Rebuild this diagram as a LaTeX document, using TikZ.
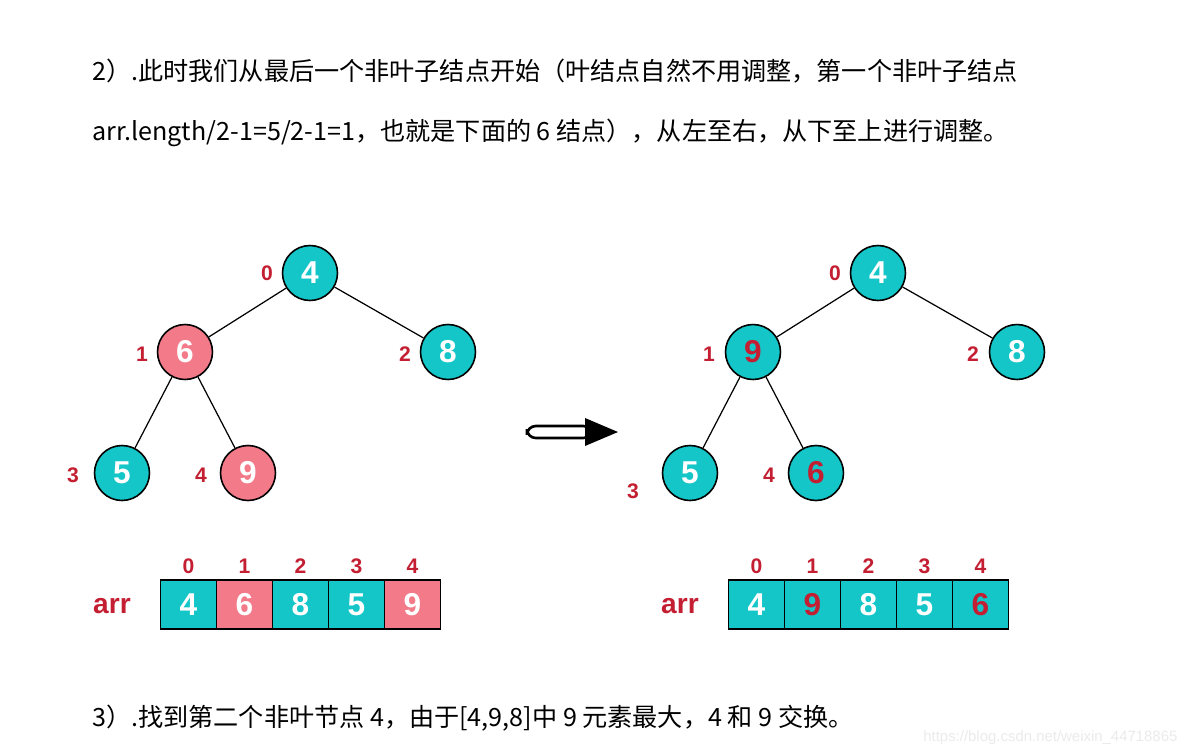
\documentclass[tikz,border=0pt]{standalone}
\usepackage{fontspec}
\setmainfont{Liberation Sans}
\newfontfamily\cjk{Noto Sans CJK SC}
\definecolor{heapteal}{RGB}{20,198,200}
\definecolor{heappink}{RGB}{242,122,137}
\definecolor{idxred}{RGB}{196,30,50}
\usetikzlibrary{positioning}

\begin{document}
\begin{tikzpicture}[x=0.02cm, y=-0.02cm,
    heap/.style={circle, draw=black, line width=0.9pt, minimum size=1.1cm, inner sep=0pt,
                 font=\fontsize{18}{20}\selectfont\bfseries, text=white},
    cell/.style={rectangle, draw=black, line width=0.8pt, outer sep=0pt, minimum width=1.12cm,
                 minimum height=0.98cm, inner sep=0pt, font=\fontsize{18}{20}\selectfont\bfseries, text=white},
    idx/.style={font=\fontsize{12}{14}\selectfont\bfseries, text=idxred, inner sep=0pt},
    arrlabel/.style={font=\fontsize{16}{18}\selectfont\bfseries, text=idxred},
    note/.style={font=\cjk\fontsize{14.3}{16}\selectfont, anchor=base west, inner sep=0pt},
    edge/.style={line width=0.7pt}]
                % Canvas
                \fill[white] (0,0) rectangle (1204,755);
                \useasboundingbox (0,0) rectangle (1204,755);

                % Explanation
                \node[note] (line1) at (92,80) {2）.此时我们从最后一个非叶子结点开始（叶结点自然不用调整，第一个非叶子结点};
                \node[note] (line2) at (92,140) {arr.length/2-1=5/2-1=1，也就是下面的 6 结点），从左至右，从下至上进行调整。};

                % Heap before
                \node[heap, fill=heapteal] (b0) at (310,273) {4};
                \node[heap, fill=heappink] (b1) at (185,352) {6};
                \node[heap, fill=heapteal] (b2) at (448,352) {8};
                \node[heap, fill=heapteal] (b3) at (122,473) {5};
                \node[heap, fill=heappink] (b4) at (248,473) {9};
                \draw[edge] (b0) -- (b1);
                \draw[edge] (b0) -- (b2);
                \draw[edge] (b1) -- (b3);
                \draw[edge] (b1) -- (b4);
                \node[idx] (bi0) at (267,273) {0};
                \node[idx] (bi1) at (142,354) {1};
                \node[idx] (bi2) at (405,354) {2};
                \node[idx] (bi3) at (73,475) {3};
                \node[idx] (bi4) at (201,475) {4};

                % Swap arrow
                \coordinate (arrowtail) at (526,432);
                \coordinate (arrowtip) at (618,432);
                \draw[line width=1.5pt, fill=white, rounded corners=5] (527,426) rectangle (592,438);
                \fill (585,418) -- (arrowtip) -- (585,446) -- cycle;

                % Heap after
                \node[heap, fill=heapteal] (a0) at (878,273) {4};
                \node[heap, fill=heapteal, text=idxred] (a1) at (753,352) {9};
                \node[heap, fill=heapteal] (a2) at (1017,352) {8};
                \node[heap, fill=heapteal] (a3) at (690,473) {5};
                \node[heap, fill=heapteal, text=idxred] (a4) at (816,473) {6};
                \draw[edge] (a0) -- (a1);
                \draw[edge] (a0) -- (a2);
                \draw[edge] (a1) -- (a3);
                \draw[edge] (a1) -- (a4);
                \node[idx] (ai0) at (835,273) {0};
                \node[idx] (ai1) at (709,354) {1};
                \node[idx] (ai2) at (973,354) {2};
                \node[idx] (ai3) at (633,491) {3};
                \node[idx] (ai4) at (769,475) {4};

                % Array before
                \node[arrlabel] (barr) at (112,606) {arr};
                \node[cell, fill=heapteal] (bc0) at (188.5,604.5) {4};
                \node[cell, fill=heappink, right=0pt of bc0] (bc1) {6};
                \node[cell, fill=heapteal, right=0pt of bc1] (bc2) {8};
                \node[cell, fill=heapteal, right=0pt of bc2] (bc3) {5};
                \node[cell, fill=heappink, right=0pt of bc3] (bc4) {9};
                \foreach \i in {0,...,4}
                    \node[idx, above=3.5pt of bc\i] {\i};

                % Array after
                \node[arrlabel] (aarr) at (680,606) {arr};
                \node[cell, fill=heapteal] (ac0) at (756.5,604.5) {4};
                \node[cell, fill=heapteal, text=idxred, right=0pt of ac0] (ac1) {9};
                \node[cell, fill=heapteal, right=0pt of ac1] (ac2) {8};
                \node[cell, fill=heapteal, right=0pt of ac2] (ac3) {5};
                \node[cell, fill=heapteal, text=idxred, right=0pt of ac3] (ac4) {6};
                \foreach \i in {0,...,4}
                    \node[idx, above=3.5pt of ac\i] {\i};

                % Next step
                \node[note] (line3) at (92,726) {3）.找到第二个非叶节点 4，由于[4,9,8]中 9 元素最大，4 和 9 交换。};
                \node[font=\fontsize{8.5}{10}\selectfont, text=black!8, anchor=west, inner sep=0pt] (mark) at (923,738) {https://blog.csdn.net/weixin\_44718865};
            \end{tikzpicture}
\end{document}
